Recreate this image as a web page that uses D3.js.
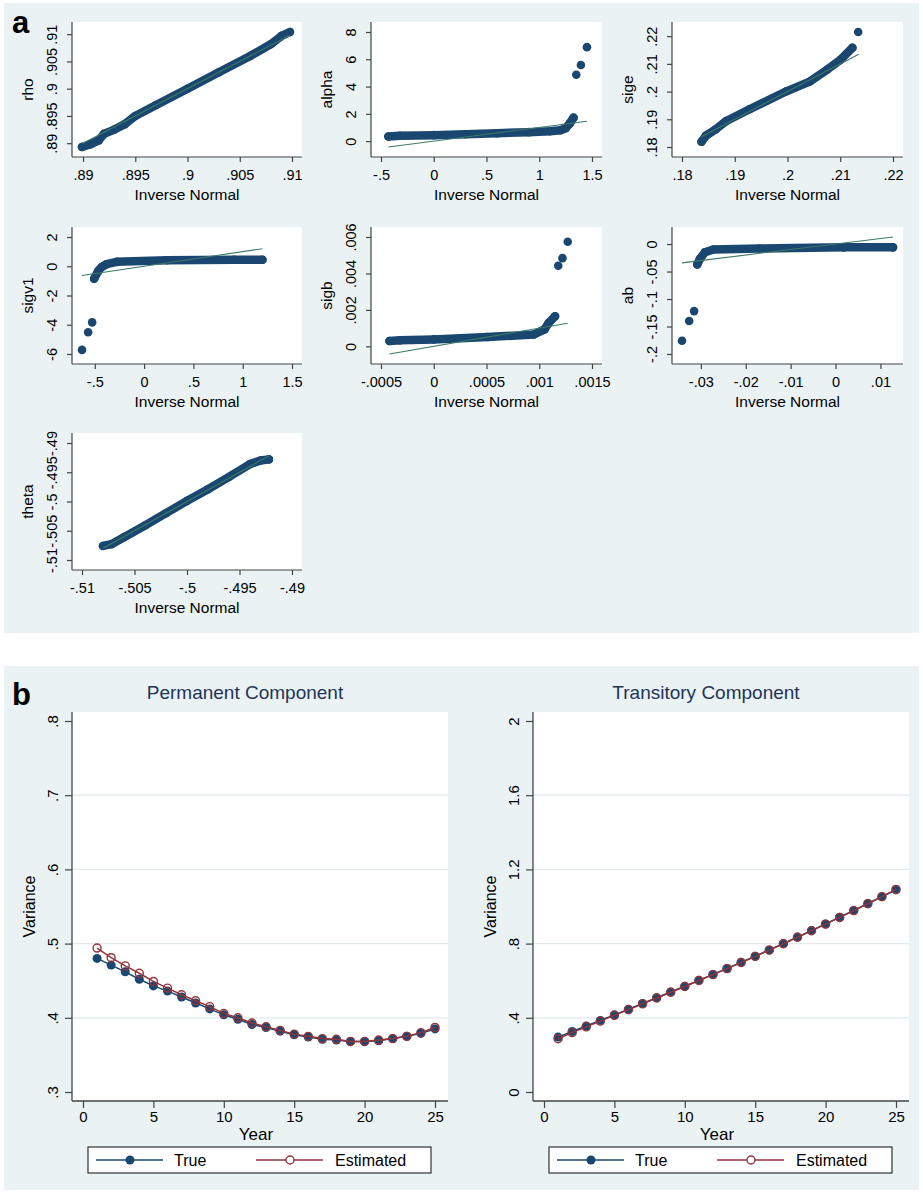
<!DOCTYPE html>
<html>
<head>
<meta charset="utf-8">
<script src="https://cdn.jsdelivr.net/npm/d3@7"></script>
<style>
  body { margin: 0; background: #fff; font-family: "Liberation Sans", Arial, Helvetica, sans-serif; }
  text { font-family: "Liberation Sans", Arial, Helvetica, sans-serif; }
</style>
</head>
<body>
<script>
// ---- panel a: Q-Q plot data (inverse normal vs sorted draws) ----
const rhoX = [.8899, .8907, .8915, .8920, .8930, .8940, .8950, .8970, .9000, .9030, .9060, .9080, .9090, .9098];
const rhoY = [.8893, .8898, .8905, .8917, .8925, .8935, .8950, .8970, .9000, .9030, .9060, .9082, .9097, .9104];
const rhoFit = [.8899, .9098];

const alphaX = [-.43, -.32, 0, .3, .6, .9, 1.1, 1.2, 1.25, 1.29, 1.325];
const alphaY = [.34, .39, .44, .50, .58, .66, .72, .80, .95, 1.30, 1.72];
const alphaOutX = [1.351, 1.395, 1.452];
const alphaOutY = [4.87, 5.58, 6.89];
const alphaFit = [-.43, 1.452];

const sigeX = [.1837, .1845, .1864, .1884, .1928, .1998, .2043, .2075, .2100, .2123];
const sigeY = [.1819, .1840, .1864, .1894, .1936, .2001, .2037, .2079, .2114, .2158];
const sigeOutX = [.2134];
const sigeOutY = [.2215];
const sigeFit = [.1837, .2135];

const sigv1X = [-.507, -.466, -.43, -.381, -.279, .232, .912, 1.20];
const sigv1Y = [-.85, -.32, -.05, .14, .30, .41, .44, .44];
const sigv1OutX = [-.63, -.568, -.527];
const sigv1OutY = [-5.72, -4.51, -3.84];
const sigv1Fit = [-.63, 1.20];

const sigbX = [-.00042, -.00032, 0, .00051, .00095, .00105, .00109, .00115];
const sigbY = [.00029, .00033, .00038, .00051, .00065, .00093, .00129, .00165];
const sigbOutX = [.00118, .00122, .00127];
const sigbOutY = [.00442, .00484, .00574];
const sigbFit = [-.00042, .00127];

const abX = [-.0308, -.0302, -.0291, -.0272, -.0168, .0018, .0128];
const abY = [-.037, -.027, -.015, -.0099, -.008, -.006, -.006];
const abOutX = [-.0342, -.0326, -.0315];
const abOutY = [-.176, -.140, -.122];
const abFit = [-.0342, .0128];

const thetaX = [-.5080, -.5072, -.5060, -.5040, -.5020, -.5000, -.4980, -.4960, -.4940, -.4930, -.4922];
const thetaY = [-.5076, -.5073, -.5061, -.5041, -.5020, -.4999, -.4979, -.4958, -.4936, -.4930, -.4928];
const thetaFit = [-.5080, -.4922];

// tick values and their Stata-style labels
const rhoTicks = [.89, .895, .9, .905, .91];
const rhoLabels = [".89", ".895", ".9", ".905", ".91"];
const alphaXTicks = [-.5, 0, .5, 1, 1.5];
const alphaXLabels = ["-.5", "0", ".5", "1", "1.5"];
const alphaYTicks = [0, 2, 4, 6, 8];
const alphaYLabels = ["0", "2", "4", "6", "8"];
const sigeTicks = [.18, .19, .2, .21, .22];
const sigeLabels = [".18", ".19", ".2", ".21", ".22"];
const sigv1YTicks = [-6, -4, -2, 0, 2];
const sigv1YLabels = ["-6", "-4", "-2", "0", "2"];
const sigbXTicks = [-.0005, 0, .0005, .001, .0015];
const sigbXLabels = ["-.0005", "0", ".0005", ".001", ".0015"];
const sigbYTicks = [0, .002, .004, .006];
const sigbYLabels = ["0", ".002", ".004", ".006"];
const abXTicks = [-.03, -.02, -.01, 0, .01];
const abXLabels = ["-.03", "-.02", "-.01", "0", ".01"];
const abYTicks = [-.2, -.15, -.1, -.05, 0];
const abYLabels = ["-.2", "-.15", "-.1", "-.05", "0"];
const thetaTicks = [-.51, -.505, -.5, -.495, -.49];
const thetaLabels = ["-.51", "-.505", "-.5", "-.495", "-.49"];

// ---- panel b: variance profiles ----
const years = [1, 2, 3, 4, 5, 6, 7, 8, 9, 10, 11, 12, 13, 14, 15, 16, 17, 18, 19, 20, 21, 22, 23, 24, 25];
const permTrue = [.480, .471, .462, .452, .443, .436, .428, .420, .412, .404, .398, .391, .387, .382, .377, .374, .371, .370, .368, .368, .369, .372, .375, .379, .385];
const permEst  = [.494, .481, .470, .460, .449, .440, .431, .423, .415, .406, .400, .393, .388, .383, .378, .375, .372, .371, .368, .368, .370, .372, .375, .380, .387];
const tranTrue = [.296, .326, .356, .386, .416, .446, .477, .508, .539, .570, .602, .634, .666, .699, .732, .766, .800, .835, .870, .906, .942, .979, 1.016, 1.053, 1.090];
const tranEst  = [.287, .320, .351, .382, .413, .444, .475, .507, .538, .569, .601, .633, .665, .698, .731, .765, .799, .834, .869, .905, .941, .978, 1.015, 1.053, 1.092];
const yearTicks = [0, 5, 10, 15, 20, 25];
const permTicks = [.3, .4, .5, .6, .7, .8];
const permLabels = [".3", ".4", ".5", ".6", ".7", ".8"];
const tranTicks = [0, .4, .8, 1.2, 1.6, 2];
const tranLabels = ["0", ".4", ".8", "1.2", "1.6", "2"];

const width = 923;
const height = 1196;
const navy = "#1a476f";
const maroon = "#90353b";
const fitColor = "#3d7a68";
const bg = "#eaf2f3";
const axisColor = "#444";

const svg = d3.select("body").append("svg").attr("width", width).attr("height", height);

svg.append("rect").attr("x", 4).attr("y", 3).attr("width", 915).attr("height", 630).attr("fill", bg);
svg.append("rect").attr("x", 4).attr("y", 666).attr("width", 915).attr("height", 524).attr("fill", bg);

svg.append("text").attr("x", 12).attr("y", 33).attr("font-size", 31).attr("font-weight", "bold").text("a");
svg.append("text").attr("x", 12).attr("y", 705).attr("font-size", 31).attr("font-weight", "bold").text("b");

function styleAxis(sel, fontSize) {
  sel.select(".domain").remove();
  sel.selectAll(".tick line").attr("stroke", axisColor).attr("stroke-width", 1.2);
  sel.selectAll(".tick text").attr("fill", "#000").attr("font-size", fontSize)
    .attr("font-family", "'Liberation Sans', Arial, sans-serif");
}

function rotateYLabels(sel, gap) {
  sel.selectAll(".tick text")
    .attr("transform", "rotate(-90)")
    .attr("x", 0)
    .attr("y", -gap)
    .attr("dy", 0)
    .attr("text-anchor", "middle");
}

// ---- Q-Q subplots ----
const cols = [{ l: 72, r: 302 }, { l: 371, r: 602 }, { l: 672, r: 903 }];
const rows = [{ t: 22, b: 157 }, { t: 227, b: 364 }, { t: 433, b: 570 }];

const qqSpecs = [
  { name: "rho", col: 0, row: 0, x: rhoX, y: rhoY, outX: [], outY: [], fit: rhoFit,
    xTicks: rhoTicks, xLabels: rhoLabels, yTicks: rhoTicks, yLabels: rhoLabels },
  { name: "alpha", col: 1, row: 0, x: alphaX, y: alphaY, outX: alphaOutX, outY: alphaOutY, fit: alphaFit,
    xTicks: alphaXTicks, xLabels: alphaXLabels, yTicks: alphaYTicks, yLabels: alphaYLabels },
  { name: "sige", col: 2, row: 0, x: sigeX, y: sigeY, outX: sigeOutX, outY: sigeOutY, fit: sigeFit,
    xTicks: sigeTicks, xLabels: sigeLabels, yTicks: sigeTicks, yLabels: sigeLabels },
  { name: "sigv1", col: 0, row: 1, x: sigv1X, y: sigv1Y, outX: sigv1OutX, outY: sigv1OutY, fit: sigv1Fit,
    xTicks: alphaXTicks, xLabels: alphaXLabels, yTicks: sigv1YTicks, yLabels: sigv1YLabels },
  { name: "sigb", col: 1, row: 1, x: sigbX, y: sigbY, outX: sigbOutX, outY: sigbOutY, fit: sigbFit,
    xTicks: sigbXTicks, xLabels: sigbXLabels, yTicks: sigbYTicks, yLabels: sigbYLabels },
  { name: "ab", col: 2, row: 1, x: abX, y: abY, outX: abOutX, outY: abOutY, fit: abFit,
    xTicks: abXTicks, xLabels: abXLabels, yTicks: abYTicks, yLabels: abYLabels },
  { name: "theta", col: 0, row: 2, x: thetaX, y: thetaY, outX: [], outY: [], fit: thetaFit,
    xTicks: thetaTicks, xLabels: thetaLabels, yTicks: thetaTicks, yLabels: thetaLabels }
];

function qqPlot(spec) {
  const { l, r } = cols[spec.col];
  const { t, b } = rows[spec.row];
  const g = svg.append("g").attr("class", "qq-" + spec.name);

  g.append("rect").attr("x", l).attr("y", t).attr("width", r - l).attr("height", b - t).attr("fill", "#fff");

  const xAll = spec.x.concat(spec.outX, spec.fit, spec.xTicks);
  const yAll = spec.y.concat(spec.outY, spec.fit, spec.yTicks);
  const x = d3.scaleLinear().domain(d3.extent(xAll)).range([l + 10, r - 10]);
  const y = d3.scaleLinear().domain(d3.extent(yAll)).range([b - 10, t + 10]);

  const xAxis = d3.axisBottom(x).tickValues(spec.xTicks)
    .tickFormat((d, i) => spec.xLabels[i]).tickSize(5).tickPadding(8);
  g.append("g").attr("transform", `translate(0,${b})`).call(xAxis).call(s => styleAxis(s, 14.5));

  const yAxis = d3.axisLeft(y).tickValues(spec.yTicks)
    .tickFormat((d, i) => spec.yLabels[i]).tickSize(5);
  g.append("g").attr("transform", `translate(${l},0)`).call(yAxis)
    .call(s => styleAxis(s, 14.5)).call(s => rotateYLabels(s, 15));

  g.append("line").attr("x1", l).attr("x2", r).attr("y1", b).attr("y2", b)
    .attr("stroke", axisColor).attr("stroke-width", 1.2);
  g.append("line").attr("x1", l).attr("x2", l).attr("y1", t).attr("y2", b)
    .attr("stroke", axisColor).attr("stroke-width", 1.2);

  g.append("text").attr("x", (l + r) / 2).attr("y", b + 43).attr("text-anchor", "middle")
    .attr("font-size", 15.5).text("Inverse Normal");
  g.append("text").attr("transform", `translate(${l - 39},${(t + b) / 2}) rotate(-90)`)
    .attr("text-anchor", "middle").attr("font-size", 15.5).text(spec.name);

  // dense run of overlapping markers: thick stroke through the read points, plus the markers
  const band = d3.zip(spec.x, spec.y);
  g.append("path").datum(band)
    .attr("d", d3.line().x(d => x(d[0])).y(d => y(d[1])))
    .attr("fill", "none").attr("stroke", navy).attr("stroke-width", 8.5)
    .attr("stroke-linecap", "round").attr("stroke-linejoin", "round");

  const pts = band.concat(d3.zip(spec.outX, spec.outY));
  g.selectAll("circle.pt").data(pts).enter().append("circle")
    .attr("class", "pt")
    .attr("cx", d => x(d[0])).attr("cy", d => y(d[1])).attr("r", 4.3)
    .attr("fill", navy);

  g.append("path").datum(spec.fit.map(v => [v, v]))
    .attr("d", d3.line().x(d => x(d[0])).y(d => y(d[1])))
    .attr("fill", "none").attr("stroke", fitColor).attr("stroke-width", 1.1);
}

qqSpecs.forEach(qqPlot);

// ---- panel b line plots ----
function linePlot(opts) {
  const { l, r, t, b } = opts;
  const g = svg.append("g");

  g.append("rect").attr("x", l).attr("y", t).attr("width", r - l).attr("height", b - t).attr("fill", "#fff");

  const x = d3.scaleLinear().domain([yearTicks[0], yearTicks[yearTicks.length - 1]]).range([l + 11, r - 13]);
  const y = d3.scaleLinear().domain([opts.yTicks[0], opts.yTicks[opts.yTicks.length - 1]]).range([b - 9, t + 9]);

  g.selectAll("line.grid").data(opts.yTicks.slice(1, -1)).enter().append("line")
    .attr("class", "grid")
    .attr("x1", l).attr("x2", r).attr("y1", d => y(d)).attr("y2", d => y(d))
    .attr("stroke", "#e2eaed").attr("stroke-width", 1.2);

  const xAxis = d3.axisBottom(x).tickValues(yearTicks).tickFormat(d3.format("d"))
    .tickSize(7).tickPadding(3.5);
  g.append("g").attr("transform", `translate(0,${b})`).call(xAxis).call(s => styleAxis(s, 15));

  const yAxis = d3.axisLeft(y).tickValues(opts.yTicks)
    .tickFormat((d, i) => opts.yLabels[i]).tickSize(7);
  g.append("g").attr("transform", `translate(${l},0)`).call(yAxis)
    .call(s => styleAxis(s, 15)).call(s => rotateYLabels(s, 14));

  g.append("line").attr("x1", l).attr("x2", r).attr("y1", b).attr("y2", b)
    .attr("stroke", axisColor).attr("stroke-width", 1.3);
  g.append("line").attr("x1", l).attr("x2", l).attr("y1", t).attr("y2", b)
    .attr("stroke", axisColor).attr("stroke-width", 1.3);

  g.append("text").attr("x", (l + r) / 2 - 15).attr("y", t - 13).attr("text-anchor", "middle")
    .attr("font-size", 19).attr("fill", "#22335a").text(opts.title);
  g.append("text").attr("x", (l + r) / 2 - 4).attr("y", b + 39).attr("text-anchor", "middle")
    .attr("font-size", 17).text("Year");
  g.append("text").attr("transform", `translate(${l - 37},${(t + b) / 2}) rotate(-90)`)
    .attr("text-anchor", "middle").attr("font-size", 16).text("Variance");

  const line = d3.line().x(d => x(d[0])).y(d => y(d[1]));
  const trueData = d3.zip(years, opts.trueVals);
  const estData = d3.zip(years, opts.estVals);

  g.append("path").datum(trueData).attr("d", line)
    .attr("fill", "none").attr("stroke", navy).attr("stroke-width", 1.5);
  g.selectAll("circle.true").data(trueData).enter().append("circle")
    .attr("class", "true")
    .attr("cx", d => x(d[0])).attr("cy", d => y(d[1])).attr("r", 4.5).attr("fill", navy);

  g.append("path").datum(estData).attr("d", line)
    .attr("fill", "none").attr("stroke", maroon).attr("stroke-width", 1.5);
  g.selectAll("circle.est").data(estData).enter().append("circle")
    .attr("class", "est")
    .attr("cx", d => x(d[0])).attr("cy", d => y(d[1])).attr("r", 4)
    .attr("fill", "none").attr("stroke", maroon).attr("stroke-width", 1.4);

  // legend
  const lx = l + 16, ly = b + 46;
  const leg = g.append("g").attr("transform", `translate(${lx},${ly})`);
  leg.append("rect").attr("width", 343).attr("height", 26)
    .attr("fill", "#fff").attr("stroke", "#333").attr("stroke-width", 1.2);
  leg.append("line").attr("x1", 8).attr("x2", 75).attr("y1", 13).attr("y2", 13)
    .attr("stroke", navy).attr("stroke-width", 1.5);
  leg.append("circle").attr("cx", 42).attr("cy", 13).attr("r", 4.5).attr("fill", navy);
  leg.append("text").attr("x", 86).attr("y", 19).attr("font-size", 16).text("True");
  leg.append("line").attr("x1", 168).attr("x2", 235).attr("y1", 13).attr("y2", 13)
    .attr("stroke", maroon).attr("stroke-width", 1.5);
  leg.append("circle").attr("cx", 202).attr("cy", 13).attr("r", 4)
    .attr("fill", "#fff").attr("stroke", maroon).attr("stroke-width", 1.4);
  leg.append("text").attr("x", 247).attr("y", 19).attr("font-size", 16).text("Estimated");
}

linePlot({ l: 72, r: 448, t: 712, b: 1101, title: "Permanent Component",
  yTicks: permTicks, yLabels: permLabels, trueVals: permTrue, estVals: permEst });
linePlot({ l: 533, r: 909, t: 712, b: 1101, title: "Transitory Component",
  yTicks: tranTicks, yLabels: tranLabels, trueVals: tranTrue, estVals: tranEst });
</script>
</body>
</html>
